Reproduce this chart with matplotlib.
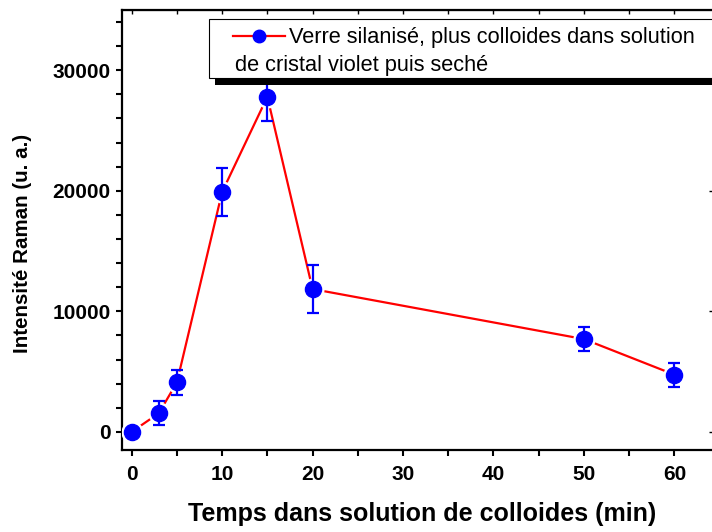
import matplotlib
matplotlib.use('Agg')
import matplotlib.pyplot as plt
from matplotlib.patches import Rectangle
from matplotlib.lines import Line2D
from matplotlib.ticker import MultipleLocator

plt.rcParams['font.family'] = ['Liberation Sans', 'DejaVu Sans']

# ---- data ----
time_min = [0, 3, 5, 10, 15, 20, 50, 60]
intensity = [0, 1550, 4100, 19900, 27800, 11850, 7700, 4750]
error = [0, 1000, 1000, 2000, 2000, 2000, 1000, 1000]
x_ticks = [0, 10, 20, 30, 40, 50, 60]
y_ticks = [0, 10000, 20000, 30000]
legend_line1 = "Verre silanisé, plus colloides dans solution"
legend_line2 = "de cristal violet puis seché"
x_label = "Temps dans solution de colloides (min)"
y_label = "Intensité Raman (u. a.)"

W, H = 712, 532
fig = plt.figure(figsize=(W / 100, H / 100), dpi=100)
ax = fig.add_axes([121.7 / W, 82 / H, (716 - 121.7) / W, 440 / H])

# line with gaps around markers (white halo)
ax.plot(time_min, intensity, color='red', lw=1.6, zorder=2)
ax.plot(time_min, intensity, ls='none', marker='o', ms=16, mfc='white',
        mec='none', zorder=3)
ax.errorbar(time_min, intensity, yerr=error, fmt='none', ecolor='blue',
            elinewidth=1.6, capsize=4.5, capthick=1.6, zorder=4)
ax.plot(time_min, intensity, ls='none', marker='o', ms=11.6, color='blue',
        zorder=5)

ax.set_xlim(-1.1, 64.6)
ax.set_ylim(-1500, 35000)
ax.set_xticks(x_ticks)
ax.set_yticks(y_ticks)
ax.xaxis.set_minor_locator(MultipleLocator(5))
ax.yaxis.set_minor_locator(MultipleLocator(2000))
ax.tick_params(axis='both', which='both', direction='out', width=1.5,
               length=4, labelsize=15)
ax.tick_params(axis='x', pad=7)
ax.tick_params(axis='y', pad=4)
for lab in ax.get_xticklabels() + ax.get_yticklabels():
    lab.set_fontweight('bold')
for sp in ax.spines.values():
    sp.set_linewidth(1.6)

# inward ticks on top and right
top = ax.secondary_xaxis('top')
top.set_xticks(x_ticks)
top.xaxis.set_minor_locator(MultipleLocator(5))
top.tick_params(which='both', direction='in', length=3, width=1.0,
                labeltop=False)
right = ax.secondary_yaxis('right')
right.set_yticks(y_ticks)
right.tick_params(which='both', direction='in', length=5, width=1.0,
                  labelright=False)
right.yaxis.set_minor_locator(matplotlib.ticker.NullLocator())

fig.text(422 / W, 1 - 514 / H, x_label, ha='center', va='center',
         fontsize=18, fontweight='bold')
fig.text(23 / W, 1 - 243 / H, y_label, ha='center', va='center',
         rotation=90, fontsize=14.8, fontweight='bold')

# ---- legend (drawn manually to reproduce the layout) ----
def fx(px):
    return px / W

def fy(py):
    return 1 - py / H

shadow = Rectangle((fx(215), fy(85)), fx(720) - fx(215), fy(78) - fy(85),
                   transform=fig.transFigure, facecolor='black',
                   edgecolor='none', zorder=10)
box = Rectangle((fx(209), fy(78)), fx(730) - fx(209), fy(19) - fy(78),
                transform=fig.transFigure, facecolor='white',
                edgecolor='black', lw=0.8, zorder=11)
fig.add_artist(shadow)
fig.add_artist(box)
handle = Line2D([fx(233), fx(259), fx(285)], [fy(36)] * 3,
                transform=fig.transFigure, color='red', lw=1.6,
                marker='o', markevery=[1], ms=9, mfc='blue', mec='blue',
                zorder=12)
fig.add_artist(handle)
fig.text(fx(289), fy(37), legend_line1, ha='left', va='center',
         fontsize=15.7, zorder=12)
fig.text(fx(235), fy(65), legend_line2, ha='left', va='center',
         fontsize=15.7, zorder=12)

fig.savefig('out.png', dpi=100)
